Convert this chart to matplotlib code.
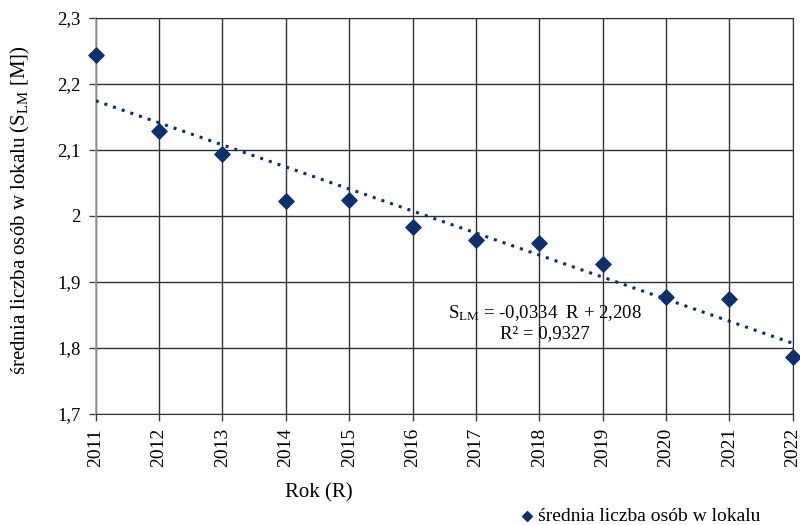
import matplotlib
matplotlib.use("Agg")
import matplotlib.pyplot as plt
import numpy as np

years = [2011, 2012, 2013, 2014, 2015, 2016, 2017, 2018, 2019, 2020, 2021, 2022]
values = [2.244, 2.129, 2.094, 2.023, 2.024, 1.983, 1.963, 1.959, 1.928, 1.878, 1.875, 1.787]
trend_slope = -0.0334
trend_intercept = 2.208
y_ticks = [1.7, 1.8, 1.9, 2.0, 2.1, 2.2, 2.3]
y_tick_labels = ["1,7", "1,8", "1,9", "2", "2,1", "2,2", "2,3"]

plt.rcParams['font.family'] = ['Liberation Serif', 'DejaVu Serif']
plt.rcParams['mathtext.default'] = 'regular'

navy = '#0d2f6e'
W, H = 800, 525
fig = plt.figure(figsize=(8, 5.25), dpi=100)
ax = fig.add_axes([95.7 / W, 1 - 414 / H, (792.7 - 95.7) / W, (414 - 18) / H])

R = np.array(years) - years[0] + 1
trend = trend_slope * R + trend_intercept
ax.plot(years, trend, linestyle=(0, (1, 2)), color=navy, lw=2.2, zorder=3)
ax.scatter(years, values, marker='D', s=60, color=navy, zorder=4, clip_on=False,
           label='średnia liczba osób w lokalu')

ax.set_xlim(2011, 2022)
ax.set_ylim(1.7, 2.3)
ax.set_xticks(years)
ax.set_xticklabels([str(y) for y in years], rotation=90, fontsize=14)
ax.set_yticks(y_ticks)
ax.set_yticklabels(y_tick_labels, fontsize=13.5)
ax.tick_params(axis='both', direction='out', length=5, color='#404040', width=1)
ax.tick_params(axis='x', pad=5)
ax.tick_params(axis='y', pad=6)
ax.grid(True, color='#303030', lw=1)
ax.set_axisbelow(True)
for s in ['top', 'right', 'bottom']:
    ax.spines[s].set_color('#303030')
ax.spines['left'].set_color('#a0a0a0')
ax.spines['left'].set_linewidth(1.2)

fig.text(20 / W, 1 - 210 / H, 'średnia liczba osób w lokalu (S$_{LM}$ [M])', fontsize=15,
         rotation=90, ha='center', va='center')
fig.text(319 / W, 1 - 493 / H, 'Rok (R)', fontsize=15, ha='center', va='center')

ax.text(2018.09, 1.838, 'S$_{LM}$ = -0,0334  R + 2,208\nR² = 0,9327', fontsize=13.5,
        ha='center', va='center', linespacing=1.15, zorder=5)

fig.legend(loc='center left', bbox_to_anchor=(519 / W, 1 - 516 / H), frameon=False,
           fontsize=14, handlelength=0.8, handletextpad=0.2, markerscale=0.65,
           borderaxespad=0.0, borderpad=0.0)

fig.savefig('out.png', dpi=100)
